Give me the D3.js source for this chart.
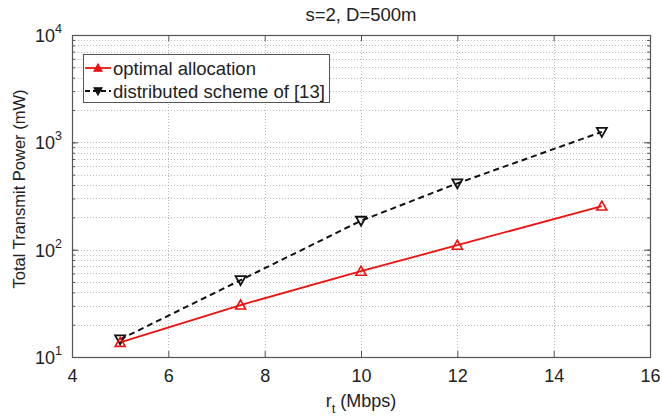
<!DOCTYPE html>
<html>
<head>
<meta charset="utf-8">
<script src="https://cdn.jsdelivr.net/npm/d3@7"></script>
<style>
  body { margin: 0; background: #fff; }
  text { font-family: "Liberation Sans", Arial, sans-serif; fill: #222; }
</style>
</head>
<body>
<div id="wrapper"></div>
<script>
// data
const rates = [5, 7.5, 10, 12, 15];
const optimalPower = [13.7, 30.5, 63, 110, 255];
const distributedPower = [14.6, 52, 186, 415, 1250];
const xTicks = [4, 6, 8, 10, 12, 14, 16];
const yDecades = [1, 2, 3, 4];
const seriesNames = ["optimal allocation", "distributed scheme of [13]"];

// dimensions
let dimensions = {
  width: 662,
  height: 418,
  margin: { top: 35, right: 12, bottom: 61, left: 72 },
};
dimensions.boundedWidth = dimensions.width - dimensions.margin.left - dimensions.margin.right;
dimensions.boundedHeight = dimensions.height - dimensions.margin.top - dimensions.margin.bottom;

const wrapper = d3.select("#wrapper").append("svg")
  .attr("width", dimensions.width)
  .attr("height", dimensions.height);

const bounds = wrapper.append("g")
  .attr("transform", `translate(${dimensions.margin.left},${dimensions.margin.top})`);

// scales
const xScale = d3.scaleLinear().domain([4, 16]).range([0, dimensions.boundedWidth]);
const yScale = d3.scaleLog().domain([10, 10000]).range([dimensions.boundedHeight, 0]);

// grid
const minorVals = [];
for (let e = 1; e < 4; e++) for (let m = 1; m <= 9; m++) minorVals.push(m * Math.pow(10, e));
minorVals.push(10000);

const grid = bounds.append("g").attr("stroke", "#bbb").attr("stroke-dasharray", "1,2").attr("stroke-width", 1);
grid.selectAll(".gy").data(minorVals.filter(v => v > 10 && v < 10000)).join("line")
  .attr("x1", 0).attr("x2", dimensions.boundedWidth)
  .attr("y1", d => Math.round(yScale(d)) + 0.5).attr("y2", d => Math.round(yScale(d)) + 0.5);
grid.selectAll(".gx").data(xTicks.slice(1, -1)).join("line")
  .attr("y1", 0).attr("y2", dimensions.boundedHeight)
  .attr("x1", d => Math.round(xScale(d)) + 0.5).attr("x2", d => Math.round(xScale(d)) + 0.5);

// axes (inner ticks, box)
const xAxisBottom = d3.axisBottom(xScale).tickValues(xTicks).tickSizeInner(-6).tickSizeOuter(0).tickPadding(12);
const xAx = bounds.append("g").attr("transform", `translate(0,${dimensions.boundedHeight})`).call(xAxisBottom);
xAx.selectAll("text").style("font-size", "18px").attr("fill", "#222");
const xAxisTop = d3.axisTop(xScale).tickValues(xTicks).tickSizeInner(-6).tickSizeOuter(0).tickFormat("");
bounds.append("g").call(xAxisTop);

const yAxisLeft = d3.axisLeft(yScale).tickValues(yDecades.map(e => Math.pow(10, e))).tickSizeInner(-6).tickSizeOuter(0).tickFormat("");
bounds.append("g").call(yAxisLeft);
const yMinorLeft = d3.axisLeft(yScale).tickValues(minorVals).tickSizeInner(-3).tickSizeOuter(0).tickFormat("");
bounds.append("g").call(yMinorLeft);
const yAxisRight = d3.axisRight(yScale).tickValues(yDecades.map(e => Math.pow(10, e))).tickSizeInner(-6).tickSizeOuter(0).tickFormat("");
bounds.append("g").attr("transform", `translate(${dimensions.boundedWidth},0)`).call(yAxisRight);
const yMinorRight = d3.axisRight(yScale).tickValues(minorVals).tickSizeInner(-3).tickSizeOuter(0).tickFormat("");
bounds.append("g").attr("transform", `translate(${dimensions.boundedWidth},0)`).call(yMinorRight);

bounds.selectAll(".domain").attr("stroke", "#555");
bounds.selectAll(".tick line").attr("stroke", "#555");

bounds.append("rect")
  .attr("x", 0.5).attr("y", 0.5)
  .attr("width", dimensions.boundedWidth).attr("height", dimensions.boundedHeight)
  .attr("fill", "none").attr("stroke", "#555").attr("stroke-width", 1.2);

// y tick labels 10^k
const yLabels = bounds.append("g");
yDecades.forEach(e => {
  const t = yLabels.append("text")
    .attr("x", -10).attr("y", yScale(Math.pow(10, e)) + 7)
    .attr("text-anchor", "end").style("font-size", "18px");
  t.append("tspan").text("10");
  t.append("tspan").attr("dy", -9).style("font-size", "12.5px").text(e);
});

// lines
const lineGen = d3.line().x(d => xScale(d[0])).y(d => yScale(d[1]));
const optData = d3.zip(rates, optimalPower);
const disData = d3.zip(rates, distributedPower);

bounds.append("path").datum(disData).attr("d", lineGen)
  .attr("fill", "none").attr("stroke", "#111").attr("stroke-width", 2).attr("stroke-dasharray", "6,4");
bounds.append("path").datum(optData).attr("d", lineGen)
  .attr("fill", "none").attr("stroke", "#f01010").attr("stroke-width", 1.8);

const triUp = "M0,-5L5,4L-5,4Z";
const triDown = "M0,5L5,-4L-5,-4Z";

bounds.selectAll(".dis").data(disData).join("path")
  .attr("d", triDown)
  .attr("transform", d => `translate(${xScale(d[0])},${yScale(d[1])})`)
  .attr("fill", "none").attr("stroke", "#111").attr("stroke-width", 1.8);
bounds.selectAll(".opt").data(optData).join("path")
  .attr("d", triUp)
  .attr("transform", d => `translate(${xScale(d[0])},${yScale(d[1])})`)
  .attr("fill", "none").attr("stroke", "#f01010").attr("stroke-width", 1.6);

// legend
const legend = bounds.append("g").attr("transform", "translate(11,19)");
legend.append("rect").attr("x", 0.5).attr("y", 0.5).attr("width", 246).attr("height", 48)
  .attr("fill", "#fff").attr("stroke", "#555");
const legendRows = [
  { name: seriesNames[0], color: "#f01010", dash: null, marker: triUp },
  { name: seriesNames[1], color: "#111", dash: "5,3", marker: triDown },
];
legendRows.forEach((r, i) => {
  const g = legend.append("g").attr("transform", `translate(0,${14 + i * 23})`);
  g.append("line").attr("x1", 2).attr("x2", 28).attr("y1", 0).attr("y2", 0)
    .attr("stroke", r.color).attr("stroke-width", 1.8).attr("stroke-dasharray", r.dash);
  g.append("path").attr("d", r.marker).attr("transform", "translate(15,0) scale(0.8)")
    .attr("fill", r.color).attr("stroke", r.color).attr("stroke-width", 1.5);
  g.append("text").attr("x", 30).attr("y", 6.5).style("font-size", "18.5px").text(r.name);
});

// title and axis labels
wrapper.append("text")
  .attr("x", dimensions.margin.left + dimensions.boundedWidth / 2).attr("y", 21)
  .attr("text-anchor", "middle").style("font-size", "18.5px").text("s=2, D=500m");

const xLabel = wrapper.append("text")
  .attr("x", dimensions.margin.left + dimensions.boundedWidth / 2).attr("y", 407)
  .attr("text-anchor", "middle").style("font-size", "18px");
xLabel.append("tspan").text("r");
xLabel.append("tspan").attr("dy", 6).style("font-size", "13px").text("t");
xLabel.append("tspan").attr("dy", -6).text(" (Mbps)");

wrapper.append("text")
  .attr("transform", `translate(25,189) rotate(-90)`)
  .attr("text-anchor", "middle").style("font-size", "16.5px").text("Total Transmit Power (mW)");
</script>
</body>
</html>
